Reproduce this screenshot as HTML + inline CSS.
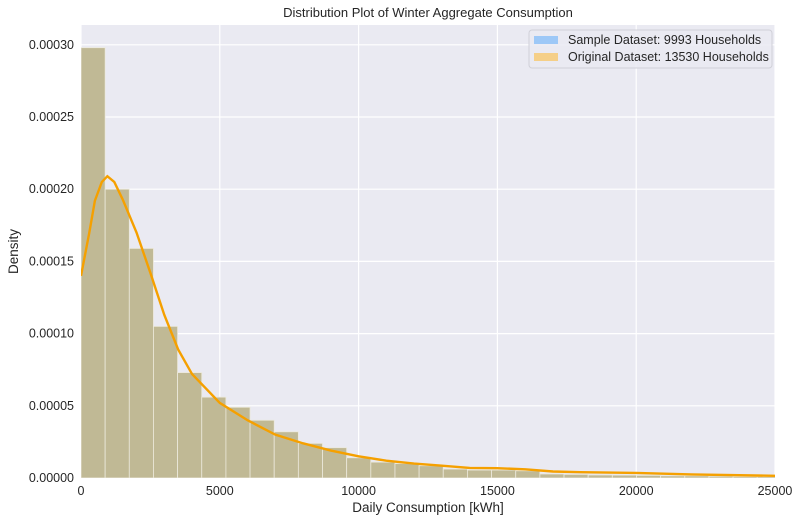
<!DOCTYPE html>
<html><head><meta charset="utf-8"><style>
body{margin:0;background:#fff;font-family:"Liberation Sans",sans-serif}
svg text{font-family:"Liberation Sans",sans-serif;fill:#262626}
</style></head><body>
<svg id="c" width="801" height="523"></svg>
<script>
const binWidth=870;
const sampleDensity=[0.000298,0.000200,0.000159,0.000105,0.000073,0.000056,0.000049,0.000040,0.000032,0.000024,0.000021,0.000014,0.000011,0.000010,0.0000085,0.0000062,0.0000055,0.0000055,0.000005,0.0000028,0.0000025,0.0000021,0.000002,0.0000018,0.0000015,0.0000015,0.0000012,0.000001,0.000001];
const kdeX=[0,300,500,750,950,1200,1500,2000,2500,3000,3500,4000,5000,6000,7000,8000,9000,10000,11000,12000,13000,14000,15000,16000,17000,18000,20000,22000,25000];
const kdeY=[0.00014,0.00017,0.000192,0.000205,0.000209,0.000205,0.000193,0.00017,0.000142,0.000113,0.000089,0.000072,0.000052,0.00004,0.00003,0.000024,0.000019,0.000015,0.000012,0.00001,0.0000085,0.000007,0.0000068,0.000006,0.0000045,0.000004,0.0000035,0.0000025,0.0000015];
const xTicks=[0,5000,10000,15000,20000,25000];
const yTicks=[0,0.00005,0.0001,0.00015,0.0002,0.00025,0.0003];
const yTickLabels=["0.00000","0.00005","0.00010","0.00015","0.00020","0.00025","0.00030"];

const L=81,R=775,T=25,B=478;
const sx=v=>L+(v/25000)*(R-L);
const sy=v=>B-v*1444000;
const svg=document.getElementById('c');
const NS='http://www.w3.org/2000/svg';
function mk(t,a,p){const e=document.createElementNS(NS,t);for(const k in a)e.setAttribute(k,a[k]);(p||svg).appendChild(e);return e;}
const bg=mk('rect',{x:L,y:T,width:R-L,height:B-T,fill:'#eaeaf2'});


xTicks.forEach(v=>{
 const g=mk('line',{x1:sx(v),x2:sx(v),y1:T,y2:B,stroke:'#fff','stroke-width':1.2});
 
 
 const t=mk('text',{x:sx(v),y:B+17,'text-anchor':'middle','font-size':12.5});
 t.textContent=v;
 
 
});
yTicks.forEach((v,i)=>{
 const g=mk('line',{x1:L,x2:R,y1:sy(v),y2:sy(v),stroke:'#fff','stroke-width':1.2});
 
 
 const t=mk('text',{x:L-7,y:sy(v)+4,'text-anchor':'end','font-size':12.5});
 t.textContent=yTickLabels[i];
 
 
});
const clip=mk('clipPath',{id:'cp'});mk('rect',{x:L,y:T,width:R-L,height:B-T},clip);
const bars=mk('g',{'clip-path':'url(#cp)'});
sampleDensity.forEach((d,i)=>{
 const x0=sx(i*binWidth),x1=sx((i+1)*binWidth);
 const b=mk('rect',{x:x0,y:sy(d),width:x1-x0,height:B-sy(d),fill:'#c0b995',stroke:'#ece9dc','stroke-width':0.8},bars);
 
 
});
const pts=kdeX.map((x,i)=>sx(x)+','+sy(kdeY[i])).join(' ');
const kde=mk('polyline',{points:pts,fill:'none',stroke:'#f5a000','stroke-width':2.4,'clip-path':'url(#cp)'});


const title=mk('text',{x:(L+R)/2,y:17,'text-anchor':'middle','font-size':13});
title.textContent='Distribution Plot of Winter Aggregate Consumption';


const xl=mk('text',{x:(L+R)/2,y:512,'text-anchor':'middle','font-size':13.5});
xl.textContent='Daily Consumption [kWh]';


const yl=mk('text',{x:18,y:(T+B)/2,'text-anchor':'middle','font-size':13.5,transform:'rotate(-90 18 '+((T+B)/2)+')'});
yl.textContent='Density';


const lg=mk('g',{});


mk('rect',{x:529,y:30,width:243,height:38,rx:3,fill:'#eaeaf2','fill-opacity':0.85,stroke:'#d0d0d8'},lg);
mk('rect',{x:534,y:36,width:24,height:8,fill:'#9dc8f7'},lg);
mk('rect',{x:534,y:53,width:24,height:8,fill:'#f5cf88'},lg);
const t1=mk('text',{x:568,y:44,'font-size':12.5},lg);t1.textContent='Sample Dataset: 9993 Households';


const t2=mk('text',{x:568,y:61,'font-size':12.5},lg);t2.textContent='Original Dataset: 13530 Households';


</script>
</body></html>
